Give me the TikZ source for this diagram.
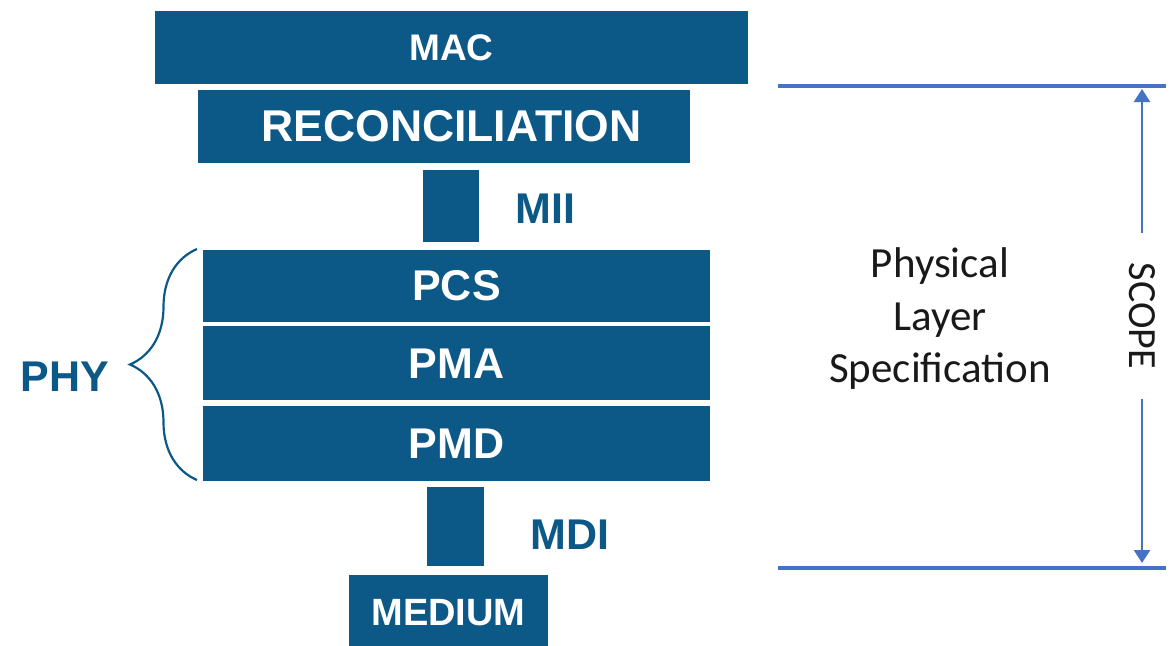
\documentclass[tikz,border=0pt]{standalone}
\usepackage{fontspec}
\setmainfont{Liberation Sans}
\newfontfamily\calibri{Carlito}
\usetikzlibrary{positioning,arrows.meta,decorations.pathreplacing}

\definecolor{layerblue}{RGB}{12,88,135}
\definecolor{scopeblue}{RGB}{68,114,196}
\definecolor{spectext}{RGB}{25,25,25}

\begin{document}
\begin{tikzpicture}[x=1pt,y=-1pt,
		layer/.style={fill=layerblue, text=white, inner sep=0pt,
			font=\bfseries\fontsize{43}{50}\selectfont},
		tag/.style={text=layerblue, inner sep=0pt,
			font=\bfseries\fontsize{43}{50}\selectfont},
		bound/.style={scopeblue, line width=4pt},
		scopeline/.style={scopeblue, line width=2.6pt,
			-{Triangle[width=16pt,length=13pt]}},
	]
	\useasboundingbox (0,0) rectangle (1174,645);
	\clip (0,0) rectangle (1174,645);
	
	% 1. 各层方块（从上到下）
	\node [layer, minimum width=593pt, minimum height=73pt,
		font=\bfseries\fontsize{37}{44}\selectfont] (mac) at (451.5,47.5) {MAC};
	\node [layer, minimum width=492pt, minimum height=73pt,
		font=\bfseries\fontsize{44.5}{50}\selectfont] (rec) at (444,126.5) {\hspace*{15pt}RECONCILIATION};
	\node [layer, minimum width=56pt, minimum height=72pt] (s_mii) at (451,206) {};
	\node [layer, minimum width=507pt, minimum height=72pt] (pcs) at (456.5,286) {PCS};
	\node [layer, minimum width=507pt, minimum height=74pt, below=4pt of pcs] (pma) {PMA};
	\node [layer, minimum width=507pt, minimum height=75pt, below=5pt of pma] (pmd) {PMD};
	\node [layer, minimum width=57pt, minimum height=79pt] (s_mdi) at (455.5,526.5) {};
	\node [layer, minimum width=199pt, minimum height=75pt,
		font=\bfseries\fontsize{38}{44}\selectfont] (med) at (448.5,612.5) {MEDIUM};
	
	% 2. 接口标注
	\node [tag, right=36pt of s_mii, yshift=-3pt] (mii) {MII};
	\node [tag, right=46pt of s_mdi, yshift=-8pt] (mdi) {MDI};
	
	% 3. PHY 花括号
	\coordinate (b_top) at (197,249);
	\coordinate (b_bot) at (197,480);
	\draw [layerblue, line width=2.2pt, decorate, decoration={brace, amplitude=67pt}]
		(b_bot) -- (b_top);
	\node [tag] (phy) at (65,377) {PHY};
	
	% 4. 右侧范围线与 SCOPE
	\coordinate (t_l) at (778,86);
	\coordinate (t_r) at (1166,86);
	\coordinate (u_l) at (778,568);
	\coordinate (u_r) at (1166,568);
	\draw [bound] (t_l) -- (t_r);
	\draw [bound] (u_l) -- (u_r);
	
	\node [rotate=-90, text=spectext, inner xsep=30pt, inner ysep=0pt,
		font=\calibri\fontsize{40}{48}\selectfont] (scope) at (1142,316) {SCOPE};
	\coordinate (sc_top) at (1142,89);
	\coordinate (sc_bot) at (1142,563);
	\draw [scopeline] (scope) -- (sc_top);
	\draw [scopeline] (scope) -- (sc_bot);
	
	\node [align=center, text=spectext, font=\calibri\fontsize{43}{52.5}\selectfont]
		(spec) at (940,319) {Physical\\Layer\\Specification};
\end{tikzpicture}
\end{document}
